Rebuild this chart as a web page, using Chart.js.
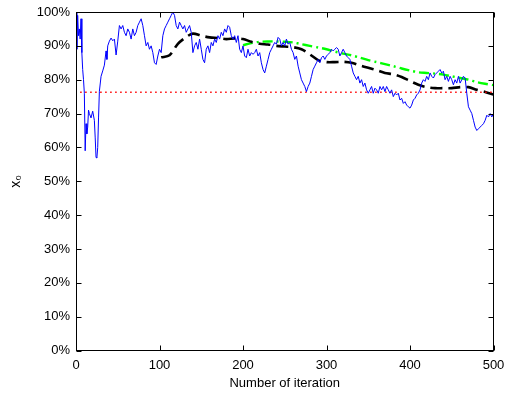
<!DOCTYPE html>
<html>
<head>
<meta charset="utf-8">
<script src="https://cdn.jsdelivr.net/npm/chart.js@4/dist/chart.umd.min.js"></script>
<style>
html,body{margin:0;padding:0;background:#fff;}
#wrap{width:505px;height:394px;position:relative;}
</style>
</head>
<body>
<div id="wrap"><canvas id="c" width="505" height="394"></canvas></div>
<script>
// ---- data ----
const blueIter = [0,1,2,3,4,5,6,7,8,9,10,11,12,13,14,15,16,18,20,22,23,24,25,26,27,28,30,32,34,36,37,38,40,42,44,46,48,50,52,54,56,58,60,62,64,66,68,70,72,74,76,78,80,82,84,86,88,90,92,94,96,98,100,102,104,106,108,110,112,114,116,118,120,122,124,126,128,130,132,134,136,138,140,142,144,146,148,150,152,154,156,158,160,162,164,166,168,170,172,174,176,178,180,182,184,186,188,190,192,194,196,198,200,202,204,206,208,210,212,214,216,218,220,222,224,226,228,230,232,234,236,238,240,242,244,246,248,250,252,254,256,258,260,262,264,266,268,270,272,274,276,278,280,282,284,286,288,290,292,294,296,298,300,302,304,306,308,310,312,314,316,318,320,322,324,326,328,330,332,334,336,338,340,342,344,346,348,350,352,354,356,358,360,362,364,366,368,370,372,374,376,378,380,382,384,386,388,390,392,394,396,398,400,402,404,406,408,410,412,414,416,418,420,422,424,426,428,430,432,434,436,438,440,442,444,446,448,450,452,454,456,458,460,462,464,466,468,470,472,474,476,478,480,482,484,486,488,490,492,494,496,498,500];
const blueVal = [100,89,99,93,95,92,98,88,83,80,76,59,67,64,66,71,70,68.7,70.7,68,62.8,57,56.9,60,68.7,76.6,81,82.6,84.3,88.5,86,90,91.4,92.3,91.5,92,87.3,91.4,96,95,96,94,93,95,94,92,95,93,94,96,97,98,96,93,90,91,89,90,88,85,84.5,87,89,88,93,95,96,97,98,99,100,99,96,95,97,96,95,96,94,95,96,94,88,90,91,89,92,89,86,85,89,90,88,91,90,92,91,93,92,94,93,95,94,96,95.5,93,92,93,91,93,89,88,90,87,86.5,89,87,88,87.5,88,89,87,88,85,83,82,84,86,88,89,90,91,90.5,92.5,92,90,91,90,92,90.5,91,89,88,86,87,84,82,80,79,78,76.5,78,79,81,83,84,85,86,85,86.5,87,86,87,87.5,88,89,88.5,89,89.5,89,87,88,89,88,87,86.5,86,84,82,81,80,81,79,80,78,79,77,76,77,78,76,77.5,77,76,78,77,78,76.5,78,77,76,77,75,76,75.5,76,74,74.5,73,73.5,72.5,72,71.6,72.5,74,74.5,75.5,76,77,79,80,79.5,81,80,82,81,80.5,81.5,82,82.5,83,82,82.5,80,81,79.5,81,80,78.5,80,79,81,79,80,81,80.5,76,72,71,70,68,66,65,65.5,66,66.5,67,68,69.5,69,70,69,70,69.6];

const blackIter = [102,112,122,132,140,150,160,170,180,190,200,210,220,230,240,250,260,270,280,290,300,310,320,330,340,350,360,370,380,390,400,410,420,430,440,450,460,470,480,490,500];
const blackVal  = [86.6,87.2,90.6,92.6,93.6,93.0,92.5,92.3,92.0,92.2,92.0,91.2,90.6,90.4,90.0,89.8,89.6,89.0,87.5,85.8,85.2,85.2,85.3,85.0,84.2,83.5,82.8,82.0,81.6,80.8,79.6,78.5,77.8,77.5,77.5,77.5,77.8,77.8,77.0,76.4,75.6];

const greenIter = [200,210,220,230,240,250,260,270,280,290,300,310,320,330,340,350,360,370,380,390,400,410,420,430,440,450,460,470,480,490,500];
const greenVal  = [90.2,90.8,91.2,91.3,91.3,91.2,91.0,90.5,90.0,89.5,89.0,88.3,87.7,87.2,86.5,85.8,85.2,84.6,84.0,83.3,82.7,82.2,82.0,81.8,81.5,81.0,80.5,80.0,79.3,78.8,78.4];

const redIter = [5,500];
const redVal  = [76.3,76.3];

const xTicks = [0,100,200,300,400,500];
const yTicks = [0,10,20,30,40,50,60,70,80,90,100];
const xTitle = 'Number of iteration';
const yTitle = 'x\u2080';

// ---- build ----
const pts = (xs, ys) => xs.map((x,i)=>({x:x, y:ys[i]}));
const FONT = "'Liberation Sans', Arial, sans-serif";

const boxPlugin = {
  id:'box',
  afterDraw(chart){
    const {ctx, chartArea:a, scales:{x,y}} = chart;
    const L = Math.floor(a.left)+0.5, R = Math.floor(a.right)+0.5, T = Math.floor(a.top)+0.5, B = Math.floor(a.bottom)+0.5;
    ctx.save();
    ctx.strokeStyle = '#000'; ctx.lineWidth = 1; ctx.setLineDash([]);
    ctx.strokeRect(L, T, R-L, B-T);
    const tl = 5;
    ctx.beginPath();
    xTicks.forEach(v=>{
      const px = Math.round(x.getPixelForValue(v))+0.5;
      ctx.moveTo(px,B); ctx.lineTo(px,B-tl);
      ctx.moveTo(px,T); ctx.lineTo(px,T+tl);
    });
    yTicks.forEach(v=>{
      const py = Math.round(y.getPixelForValue(v))+0.5;
      ctx.moveTo(L,py); ctx.lineTo(L+tl,py);
      ctx.moveTo(R,py); ctx.lineTo(R-tl,py);
    });
    ctx.stroke();
    ctx.restore();
  }
};

new Chart(document.getElementById('c'), {
  type:'line',
  data:{
    datasets:[
      {label:'x0', data:pts(blueIter,blueVal), borderColor:'#0000ff', borderWidth:1, pointRadius:0, tension:0},
      {label:'ref', data:pts(redIter,redVal), borderColor:'#ff0000', borderWidth:1.5, borderDash:[1.5,3.5], pointRadius:0},
      {label:'avg', data:pts(blackIter,blackVal), borderColor:'#000000', borderWidth:2.6, borderDash:[12,6], pointRadius:0, tension:0.3},
      {label:'trend', data:pts(greenIter,greenVal), borderColor:'#00ff00', borderWidth:2.4, borderDash:[10,4,2,4], pointRadius:0, tension:0.3}
    ]
  },
  options:{
    responsive:false, animation:false, devicePixelRatio:1,
    layout:{padding:{left:0, right:11.5, top:12, bottom:0}},
    plugins:{legend:{display:false}, tooltip:{enabled:false}},
    scales:{
      x:{
        type:'linear', min:0, max:500,
        afterBuildTicks:(s)=>{ s.ticks = xTicks.map(v=>({value:v})); },
        afterFit:(s)=>{ s.height = 43.5; s.paddingLeft = 0; s.paddingRight = 0; },
        grid:{display:false, drawTicks:false}, border:{display:false},
        ticks:{padding:7, color:'#000', font:{family:FONT, size:13}, maxRotation:0, autoSkip:false},
        title:{display:true, text:xTitle, color:'#000', font:{family:FONT, size:13}, padding:{top:0,bottom:3}}
      },
      y:{
        type:'linear', min:0, max:100,
        afterBuildTicks:(s)=>{ s.ticks = yTicks.map(v=>({value:v})); },
        afterFit:(s)=>{ s.width = 76; s.paddingTop = 0; s.paddingBottom = 0; },
        grid:{display:false, drawTicks:false}, border:{display:false},
        ticks:{padding:6, color:'#000', font:{family:FONT, size:13}, callback:(v)=>v+'%', autoSkip:false},
        title:{display:true, text:yTitle, color:'#000', font:{family:FONT, size:14}, padding:{top:8,bottom:0}}
      }
    }
  },
  plugins:[boxPlugin]
});
</script>
</body>
</html>
